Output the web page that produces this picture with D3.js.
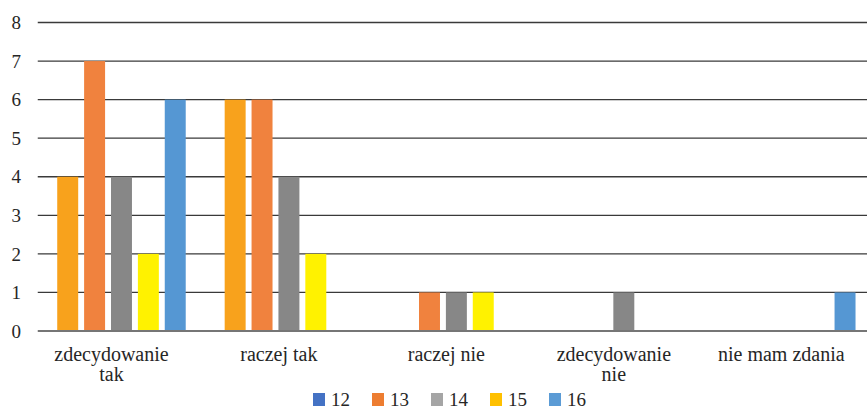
<!DOCTYPE html>
<html>
<head>
<meta charset="utf-8">
<script src="https://cdn.jsdelivr.net/npm/d3@7/dist/d3.min.js"></script>
<style>
  body { margin: 0; background: #fff; }
</style>
</head>
<body>
<svg id="chart" width="867" height="408"></svg>
<script>
var categories = ["zdecydowanie tak", "raczej tak", "raczej nie", "zdecydowanie nie", "nie mam zdania"];
var seriesNames = ["12", "13", "14", "15", "16"];
var s12 = [4, 6, 0, 0, 0];
var s13 = [7, 6, 1, 0, 0];
var s14 = [4, 4, 1, 1, 0];
var s15 = [2, 2, 1, 0, 0];
var s16 = [6, 0, 0, 0, 1];
var yTicks = [0, 1, 2, 3, 4, 5, 6, 7, 8];

var barColors = ["#F8A21C", "#F0823E", "#878787", "#FFF200", "#5597D3"];
var legendColors = ["#4472C4", "#ED7D31", "#A5A5A5", "#FFC000", "#5B9BD5"];

(function(d3) {
  var allSeries = [s12, s13, s14, s15, s16];
  var svg = d3.select("#chart");
  var plotLeft = 37.75, plotRight = 875, plotTop = 22.5, plotBottom = 331;
  var groupW = 128.5;
  var serif = "Liberation Serif";
  var ink = "#262626";

  var x0 = d3.scaleBand().domain(categories).range([plotLeft, plotRight]).paddingInner(0).paddingOuter(0);
  var x1 = d3.scaleBand().domain(seriesNames).range([0, groupW]).paddingInner(0.22).paddingOuter(0);
  var y = d3.scaleLinear().domain([0, 8]).range([plotBottom, plotTop]);

  // gridlines
  svg.append("g")
    .selectAll("line")
    .data(yTicks.filter(function(t){ return t > 0; }))
    .join("line")
    .attr("x1", plotLeft).attr("x2", 867)
    .attr("y1", function(d){ return y(d); })
    .attr("y2", function(d){ return y(d); })
    .attr("stroke", "#3a3a3a")
    .attr("stroke-width", 1.3);

  // y tick labels
  svg.append("g")
    .selectAll("text")
    .data(yTicks)
    .join("text")
    .attr("x", 21)
    .attr("y", function(d){ return y(d); })
    .attr("dy", "0.35em")
    .attr("text-anchor", "end")
    .attr("font-family", serif)
    .attr("font-size", 19)
    .attr("fill", ink)
    .text(function(d){ return d; });

  // bars
  var groups = svg.append("g")
    .selectAll("g")
    .data(categories)
    .join("g")
    .attr("transform", function(d){ return "translate(" + (x0(d) + (x0.bandwidth() - groupW) / 2) + ",0)"; });

  groups.selectAll("rect")
    .data(function(d, i){ return allSeries.map(function(s, k){ return {name: seriesNames[k], v: s[i], k: k}; }); })
    .join("rect")
    .attr("x", function(d){ return x1(d.name); })
    .attr("width", x1.bandwidth())
    .attr("y", function(d){ return y(d.v); })
    .attr("height", function(d){ return plotBottom - y(d.v); })
    .attr("fill", function(d){ return barColors[d.k]; });

  // baseline
  svg.append("line")
    .attr("x1", plotLeft).attr("x2", 867)
    .attr("y1", plotBottom).attr("y2", plotBottom)
    .attr("stroke", "#767676")
    .attr("stroke-width", 2);

  // category labels
  var labels = svg.append("g")
    .selectAll("text")
    .data(categories)
    .join("text")
    .attr("x", function(d){ return x0(d) + x0.bandwidth() / 2 - 10; })
    .attr("y", 361)
    .attr("text-anchor", "middle")
    .attr("font-family", serif)
    .attr("font-size", 20)
    .attr("fill", ink);

  labels.each(function(d){
    var t = d3.select(this);
    var words = d.split(" ");
    var x = t.attr("x");
    var line = [];
    var tspan = t.append("tspan").attr("x", x).attr("dy", 0);
    words.forEach(function(w){
      line.push(w);
      tspan.text(line.join(" "));
      if (tspan.node().getComputedTextLength() > 135 && line.length > 1) {
        line.pop();
        tspan.text(line.join(" "));
        line = [w];
        tspan = t.append("tspan").attr("x", x).attr("dy", 20).text(w);
      }
    });
  });

  // legend
  var legend = svg.append("g")
    .selectAll("g")
    .data(seriesNames)
    .join("g")
    .attr("transform", function(d, i){ return "translate(" + (313 + i * 59) + ",393)"; });

  legend.append("rect")
    .attr("width", 12).attr("height", 13)
    .attr("fill", function(d, i){ return legendColors[i]; });

  legend.append("text")
    .attr("x", 18)
    .attr("y", 6)
    .attr("dy", "0.35em")
    .attr("font-family", serif)
    .attr("font-size", 19)
    .attr("fill", ink)
    .text(function(d){ return d; });
})(d3);
</script>
</body>
</html>
